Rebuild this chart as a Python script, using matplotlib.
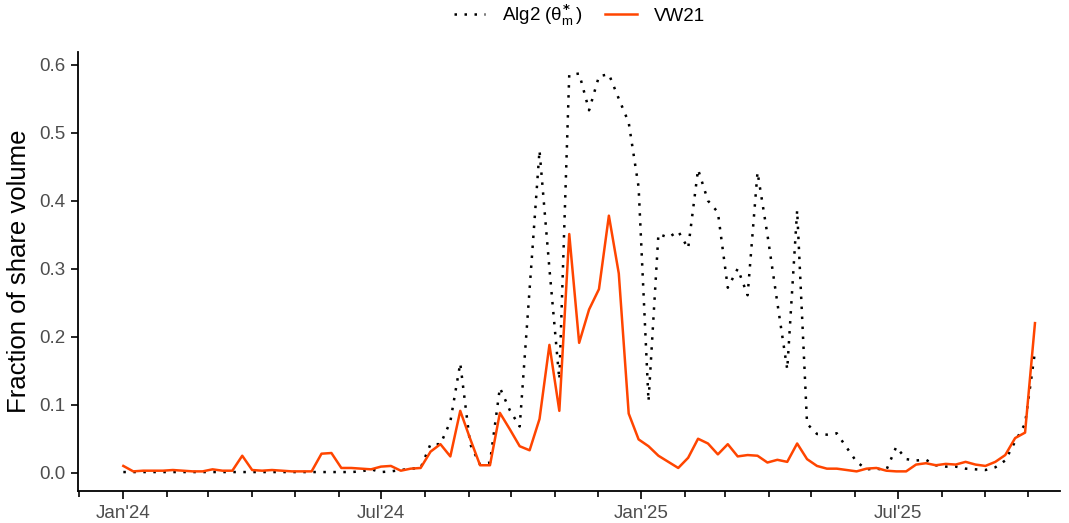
import numpy as np
import pandas as pd
import matplotlib
matplotlib.use("Agg")
import matplotlib.pyplot as plt
import matplotlib.dates as mdates

plt.rcParams['font.family'] = ['Liberation Sans', 'DejaVu Sans']
plt.rcParams['mathtext.fontset'] = 'custom'
plt.rcParams['mathtext.rm'] = 'Liberation Sans'
plt.rcParams['mathtext.it'] = 'Liberation Sans'
plt.rcParams['mathtext.bf'] = 'DejaVu Sans:bold'

# weekly observations starting 2024-01-01
dates = pd.date_range("2024-01-01", periods=93, freq="7D")

alg2 = [
    0.001, 0.001, 0.001, 0.001, 0.001, 0.001, 0.001, 0.001, 0.001, 0.001,
    0.001, 0.001, 0.001, 0.001, 0.001, 0.001, 0.001, 0.001, 0.001, 0.001,
    0.001, 0.001, 0.001, 0.001, 0.002, 0.005, 0.001, 0.002, 0.004, 0.006,
    0.007, 0.042, 0.042, 0.075, 0.161, 0.042, 0.012, 0.015, 0.125, 0.092,
    0.068, 0.270, 0.474, 0.300, 0.137, 0.585, 0.587, 0.533, 0.583, 0.586,
    0.550, 0.515, 0.420, 0.105, 0.351, 0.346, 0.355, 0.330, 0.446, 0.400,
    0.383, 0.272, 0.300, 0.261, 0.442, 0.350, 0.250, 0.152, 0.386, 0.072,
    0.057, 0.056, 0.058, 0.037, 0.016, 0.005, 0.006, 0.004, 0.038, 0.020,
    0.018, 0.019, 0.011, 0.009, 0.009, 0.006, 0.005, 0.004, 0.008, 0.018,
    0.046, 0.072, 0.178,
]

vw21 = [
    0.010, 0.002, 0.003, 0.003, 0.003, 0.004, 0.003, 0.002, 0.002, 0.005,
    0.003, 0.003, 0.025, 0.004, 0.003, 0.004, 0.003, 0.002, 0.002, 0.002,
    0.028, 0.029, 0.007, 0.007, 0.006, 0.005, 0.009, 0.010, 0.003, 0.006,
    0.007, 0.031, 0.042, 0.024, 0.091, 0.050, 0.011, 0.011, 0.088, 0.064,
    0.039, 0.033, 0.079, 0.188, 0.091, 0.351, 0.191, 0.240, 0.270, 0.378,
    0.293, 0.087, 0.049, 0.039, 0.025, 0.016, 0.007, 0.022, 0.050, 0.043,
    0.027, 0.042, 0.024, 0.026, 0.025, 0.015, 0.019, 0.016, 0.043, 0.020,
    0.010, 0.006, 0.006, 0.004, 0.002, 0.006, 0.007, 0.003, 0.002, 0.002,
    0.012, 0.014, 0.011, 0.013, 0.012, 0.016, 0.012, 0.010, 0.016, 0.026,
    0.051, 0.059, 0.220,
]

fig = plt.figure(figsize=(10.69, 5.23), dpi=100)
ax = fig.add_axes([0.073, 0.061, 0.919, 0.840])

ax.plot(dates, alg2, color="black", lw=1.8, linestyle=(0, (1, 3)),
        label=r"Alg2 ($\theta^{\mathbf{*}}_{\mathrm{m}}\,$)")
ax.plot(dates, vw21, color="#FF4500", lw=1.8, label="VW21")

ax.set_xlim(dates[0] - pd.Timedelta(days=32), dates[0] + pd.Timedelta(days=662))
ax.set_ylim(-0.027, 0.619)

ax.xaxis.set_major_locator(mdates.MonthLocator(bymonth=[1, 7]))
ax.xaxis.set_major_formatter(mdates.DateFormatter("%b'%y"))
ax.xaxis.set_minor_locator(mdates.MonthLocator())
ax.set_yticks([0.0, 0.1, 0.2, 0.3, 0.4, 0.5, 0.6])
ax.yaxis.set_major_formatter(matplotlib.ticker.FormatStrFormatter("%.1f"))

for s in ["top", "right"]:
    ax.spines[s].set_visible(False)
for s in ["left", "bottom"]:
    ax.spines[s].set_linewidth(1.3)

ax.tick_params(axis="both", which="major", length=5, width=1.2,
               labelsize=13.5, labelcolor="#4D4D4D", pad=4)
ax.tick_params(axis="x", which="major", length=6)
ax.tick_params(axis="x", which="minor", length=4, width=1.2)

ax.set_ylabel("Fraction of share volume", fontsize=18.5, labelpad=6)

fig.legend(loc="upper center", bbox_to_anchor=(0.542, 1.028), ncol=2,
           frameon=False, fontsize=13.5, handlelength=1.7, handletextpad=0.9,
           columnspacing=1.2)

fig.savefig("out.png", dpi=100)
